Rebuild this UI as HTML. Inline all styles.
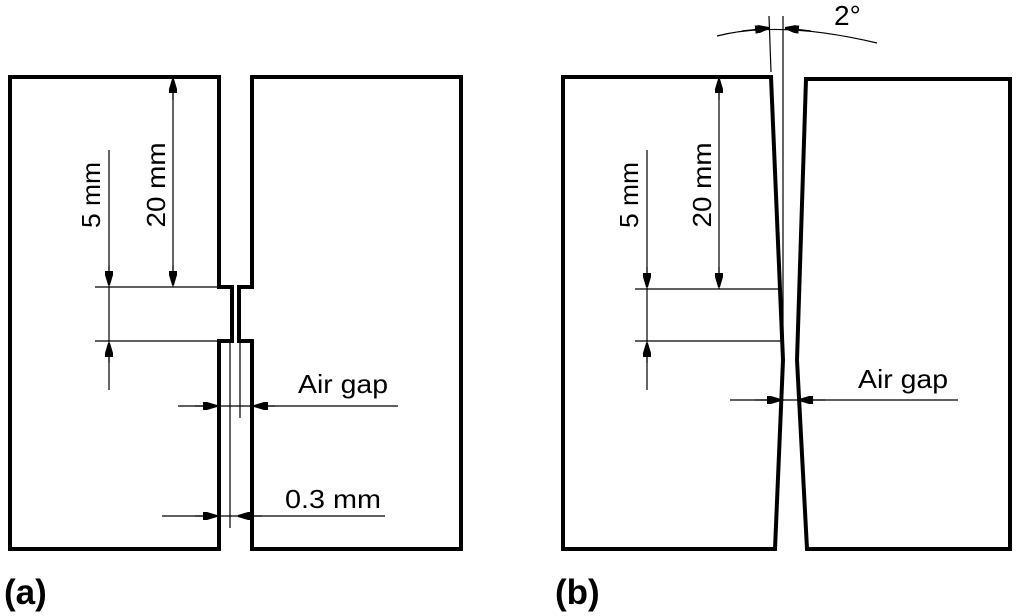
<!DOCTYPE html>
<html><head><style>body{margin:0;background:#fff}svg{display:block}</style></head><body>
<svg width="1024" height="616" viewBox="0 0 1024 616" xmlns="http://www.w3.org/2000/svg" font-family="Liberation Sans, sans-serif">
<defs>
<marker id="ar" viewBox="0 0 14 8" refX="14" refY="4" markerWidth="14" markerHeight="8" markerUnits="userSpaceOnUse" orient="auto"><path d="M0,0 L4,0 L14,3 L14,5 L4,8 L0,8 Z" fill="#000"/></marker>
</defs>
<g fill="none" stroke="#000" stroke-width="4" stroke-linejoin="miter">
<path d="M10,77 H219 V287 H232 V341 H219 V549 H10 Z"/>
<path d="M461,77 H252 V287 H239 V341 H252 V549 H461 Z"/>
<path d="M563,77 H771 L783,360 L775,549 H563 Z"/>
<path d="M1010,79 H806 L797,360 L807,549 H1010 Z"/>
</g>
<g stroke="#000" stroke-width="1.2" fill="none">
<line x1="230" y1="342" x2="230" y2="528"/>
<line x1="240" y1="342" x2="240" y2="418"/>
<line x1="95" y1="287" x2="219" y2="287"/>
<line x1="95" y1="341" x2="219" y2="341"/>
<line x1="173" y1="77" x2="173" y2="287"/>
<line x1="173" y1="100" x2="173" y2="79" marker-end="url(#ar)"/>
<line x1="173" y1="265" x2="173" y2="285" marker-end="url(#ar)"/>
<line x1="109" y1="150" x2="109" y2="390"/>
<line x1="109" y1="265" x2="109" y2="285" marker-end="url(#ar)"/>
<line x1="109" y1="363" x2="109" y2="343" marker-end="url(#ar)"/>
<line x1="178" y1="406" x2="398" y2="406"/>
<line x1="195" y1="406" x2="217" y2="406" marker-end="url(#ar)"/>
<line x1="275" y1="406" x2="254" y2="406" marker-end="url(#ar)"/>
<line x1="162" y1="516" x2="385" y2="516"/>
<line x1="195" y1="516" x2="217" y2="516" marker-end="url(#ar)"/>
<line x1="262" y1="516" x2="238" y2="516" marker-end="url(#ar)"/>

<line x1="635" y1="289" x2="780" y2="289"/>
<line x1="635" y1="341" x2="782" y2="341"/>
<line x1="719" y1="77" x2="719" y2="289"/>
<line x1="719" y1="100" x2="719" y2="79" marker-end="url(#ar)"/>
<line x1="719" y1="267" x2="719" y2="287" marker-end="url(#ar)"/>
<line x1="647" y1="150" x2="647" y2="390"/>
<line x1="647" y1="267" x2="647" y2="287" marker-end="url(#ar)"/>
<line x1="647" y1="363" x2="647" y2="343" marker-end="url(#ar)"/>
<line x1="730" y1="400" x2="958" y2="400"/>
<line x1="755" y1="400" x2="781" y2="400" marker-end="url(#ar)"/>
<line x1="825" y1="400" x2="799" y2="400" marker-end="url(#ar)"/>
<line x1="769" y1="16" x2="771" y2="72"/>
<line x1="783" y1="16" x2="783" y2="380"/>
<path d="M717,36 Q780,20 877,43"/>
<line x1="742" y1="31" x2="769" y2="28" marker-end="url(#ar)"/>
<line x1="811" y1="31" x2="785" y2="28" marker-end="url(#ar)"/>
</g>
<g font-size="26" fill="#000">
<text transform="translate(165,185) rotate(-90)" text-anchor="middle" textLength="85" lengthAdjust="spacingAndGlyphs">20 mm</text>
<text transform="translate(100,195) rotate(-90)" text-anchor="middle" textLength="66" lengthAdjust="spacingAndGlyphs">5 mm</text>
<text x="298" y="393" textLength="90" lengthAdjust="spacingAndGlyphs">Air gap</text>
<text x="285" y="508" textLength="96" lengthAdjust="spacingAndGlyphs">0.3 mm</text>
<text transform="translate(711,185) rotate(-90)" text-anchor="middle" textLength="85" lengthAdjust="spacingAndGlyphs">20 mm</text>
<text transform="translate(638,195) rotate(-90)" text-anchor="middle" textLength="66" lengthAdjust="spacingAndGlyphs">5 mm</text>
<text x="858" y="388" textLength="90" lengthAdjust="spacingAndGlyphs">Air gap</text>
<text x="834" y="25" font-size="28">2°</text>
</g>
<text x="4" y="604" font-size="35" font-weight="bold">(a)</text>
<text x="555" y="604" font-size="35" font-weight="bold">(b)</text>
</svg>
</body></html>
